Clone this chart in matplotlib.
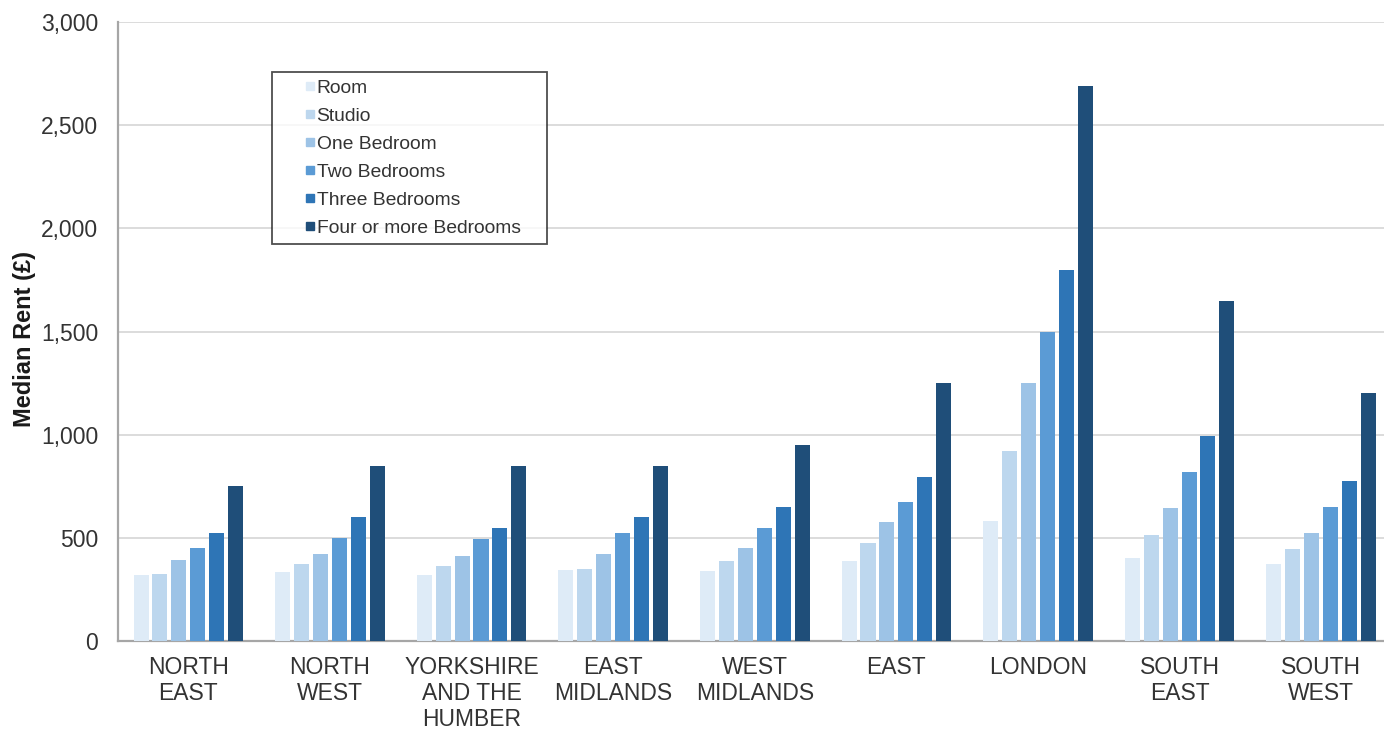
import numpy as np
import matplotlib.pyplot as plt
from matplotlib.lines import Line2D
from matplotlib.ticker import FuncFormatter

plt.rcParams['font.family'] = ['Liberation Sans', 'DejaVu Sans']

# Data (median monthly rent, £)
regions = ["NORTH\nEAST", "NORTH\nWEST", "YORKSHIRE\nAND THE\nHUMBER", "EAST\nMIDLANDS",
           "WEST\nMIDLANDS", "EAST", "LONDON", "SOUTH\nEAST", "SOUTH\nWEST"]
room = [320, 335, 320, 345, 340, 390, 580, 400, 375]
studio = [325, 375, 365, 350, 390, 475, 920, 515, 445]
one_bed = [395, 420, 410, 420, 450, 575, 1250, 645, 525]
two_bed = [450, 500, 495, 525, 550, 675, 1500, 820, 650]
three_bed = [525, 600, 550, 600, 650, 795, 1800, 995, 775]
four_bed = [750, 850, 850, 850, 950, 1250, 2690, 1650, 1200]

series = [room, studio, one_bed, two_bed, three_bed, four_bed]
names = ["Room", "Studio", "One Bedroom", "Two Bedrooms", "Three Bedrooms", "Four or more Bedrooms"]
colors = ["#deebf7", "#bdd7ee", "#9dc3e6", "#5b9bd5", "#2e75b6", "#1f4e79"]

text_col = "#333333"

fig = plt.figure(figsize=(13.84, 7.31), dpi=100)
ax = fig.add_axes([0.0849, 0.1231, 0.9209, 0.8468])

x = np.arange(len(regions))
pitch = 0.1336
for j, (vals, col) in enumerate(zip(series, colors)):
    ax.bar(x + (j - 2.5) * pitch, vals, width=0.106, color=col, zorder=3)

ax.set_xlim(-0.5, len(regions) - 0.5)
ax.set_ylim(0, 3000)
ax.set_yticks(np.arange(0, 3001, 500))
ax.yaxis.set_major_formatter(FuncFormatter(lambda v, p: f"{int(v):,}"))
ax.set_xticks(x)
ax.set_xticklabels(regions, linespacing=1.17)

ax.grid(axis='y', color='#d9d9d9', linewidth=1.3, zorder=0)
ax.set_axisbelow(True)
for s in ['top', 'right']:
    ax.spines[s].set_visible(False)
for s in ['left', 'bottom']:
    ax.spines[s].set_color('#a6a6a6')
    ax.spines[s].set_linewidth(1.6)

ax.tick_params(axis='y', length=0, pad=14, labelsize=16.5, labelcolor=text_col)
ax.tick_params(axis='x', length=0, pad=11, labelsize=16.5, labelcolor=text_col)
ax.set_ylabel("Median Rent (£)", fontsize=17, fontweight='bold', color='#1a1a1a')
ax.yaxis.set_label_coords(-0.0639, 0.4887)

# Legend
handles = [Line2D([], [], marker='s', linestyle='none', markersize=6, color=c) for c in colors]
leg = fig.legend(handles, names, loc='upper left',
                 bbox_to_anchor=(272 / 1384, 1 - 242 / 731, 275 / 1384, 170 / 731),
                 mode='expand', borderaxespad=0,
                 fontsize=13.9, frameon=True, fancybox=False, borderpad=0.38,
                 handlelength=3.15, handletextpad=-1.22, labelspacing=0.54,
                 labelcolor=text_col)
leg.get_frame().set_edgecolor('#222222')
leg.get_frame().set_linewidth(1.3)

fig.savefig("out.png", dpi=100)
